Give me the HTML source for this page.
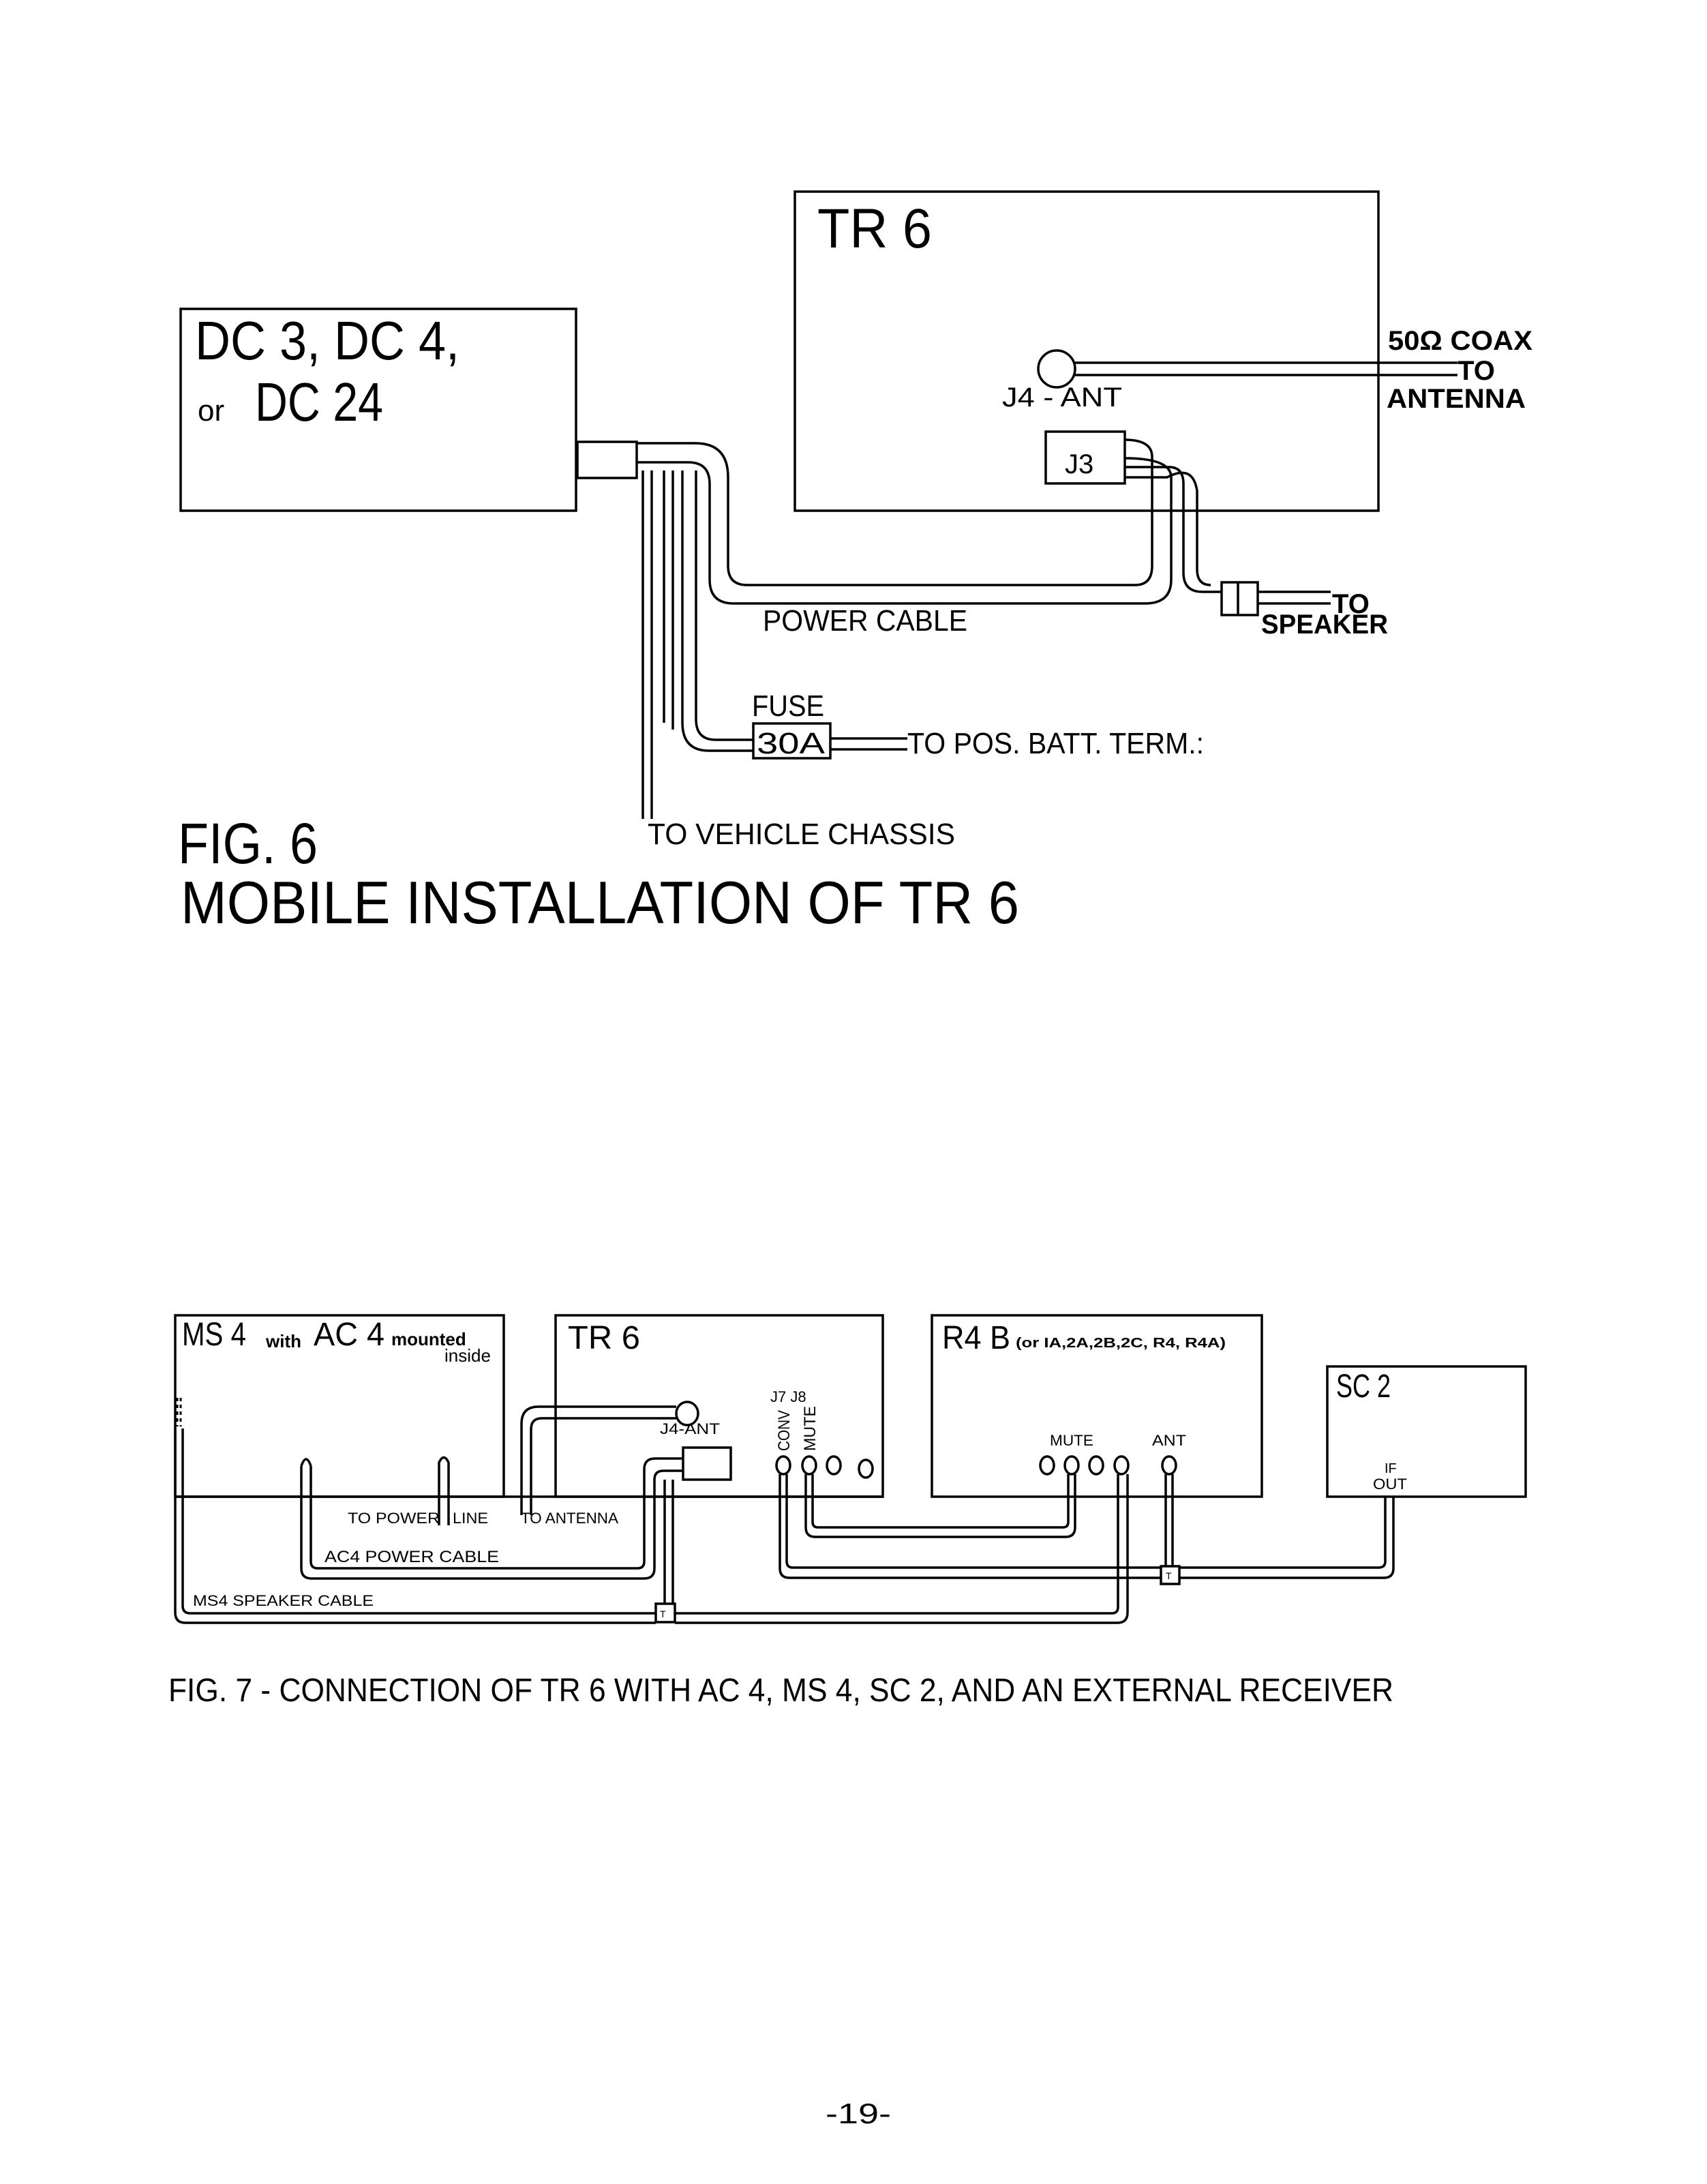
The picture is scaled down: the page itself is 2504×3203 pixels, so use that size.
<!DOCTYPE html>
<html><head><meta charset="utf-8"><style>
html,body{margin:0;padding:0;background:#fff;}
svg{display:block;}
text{font-family:"Liberation Sans",sans-serif;fill:#000;}
</style></head><body>
<svg width="2504" height="3203" viewBox="0 0 2504 3203" xmlns="http://www.w3.org/2000/svg">
<rect width="2504" height="3203" fill="#fff"/>
<g fill="none" stroke="#000" stroke-width="3.5">
<!-- FIG 6 boxes -->
<rect x="1166" y="281" width="856" height="468"/>
<rect x="265" y="453" width="580" height="296"/>
<rect x="847" y="648" width="87" height="53"/>
<circle cx="1550" cy="541" r="27"/>
<line x1="1577" y1="532" x2="2138" y2="532"/>
<line x1="1577" y1="550" x2="2138" y2="550"/>
<rect x="1534" y="633" width="116" height="76"/>
<path d="M934,650 H1020 Q1068,650 1068,700 V830 Q1068,858 1096,858 H1665 Q1690,858 1690,830 V670 Q1690,645 1650,645"/>
<path d="M934,678 H1010 Q1041,678 1041,710 V850 Q1041,885 1076,885 H1680 Q1718,885 1718,850 V700 Q1718,672 1650,672"/>
<path d="M1650,685 H1715 Q1736,685 1736,710 V840 Q1736,868 1764,868 H1792"/>
<path d="M1650,700 H1712 Q1750,680 1756,720 V835 Q1756,858 1776,858"/>
<rect x="1792" y="854" width="53" height="48"/>
<line x1="1816" y1="854" x2="1816" y2="902"/>
<line x1="1845" y1="868" x2="1952" y2="868"/>
<line x1="1845" y1="885" x2="1952" y2="885"/>
<path d="M1001,690 V1060 Q1001,1101 1040,1101 H1105"/>
<path d="M1021,690 V1055 Q1021,1085 1050,1085 H1105"/>
<rect x="1105" y="1061" width="113" height="51"/>
<line x1="1218" y1="1083" x2="1331" y2="1083"/>
<line x1="1218" y1="1099" x2="1331" y2="1099"/>
<line x1="943" y1="690" x2="943" y2="1201"/>
<line x1="956" y1="690" x2="956" y2="1201"/>
<line x1="974" y1="690" x2="974" y2="1060"/>
<line x1="987" y1="690" x2="987" y2="1070"/>

<!-- FIG 7 boxes -->
<rect x="257" y="1929" width="482" height="266"/>
<line x1="257" y1="2195" x2="1295" y2="2195"/>
<rect x="815" y="1929" width="480" height="266"/>
<rect x="1367" y="1929" width="484" height="266"/>
<rect x="1947" y="2004" width="291" height="191"/>
<ellipse cx="1008" cy="2073" rx="16" ry="17"/>
<path d="M992,2063 H790 Q765,2063 765,2088 V2222"/>
<path d="M992,2080 H795 Q779,2080 779,2096 V2222"/>
<rect x="1002" y="2123" width="70" height="47"/>
<ellipse cx="1149" cy="2149" rx="10" ry="13"/>
<ellipse cx="1187" cy="2149" rx="10" ry="13"/>
<ellipse cx="1223" cy="2149" rx="10" ry="13"/>
<ellipse cx="1270" cy="2154" rx="10" ry="13"/>
<ellipse cx="1536" cy="2149" rx="10" ry="13"/>
<ellipse cx="1572" cy="2149" rx="10" ry="13"/>
<ellipse cx="1608" cy="2149" rx="10" ry="13"/>
<ellipse cx="1645" cy="2149" rx="10" ry="13"/>
<ellipse cx="1715" cy="2149" rx="10" ry="13"/>
<path d="M644,2237 V2145 Q651,2130 658,2145 V2237"/>
<path d="M442,2150 Q449,2130 456,2150"/>
<path d="M442,2150 V2300 Q442,2315 457,2315 H945 Q960,2315 960,2300 V2170 Q960,2157 973,2157 H1002"/>
<path d="M456,2150 V2290 Q456,2300 466,2300 H935 Q945,2300 945,2290 V2155 Q945,2139 961,2139 H1002"/>
<line x1="975" y1="2170" x2="975" y2="2352"/>
<line x1="987" y1="2170" x2="987" y2="2352"/>
<rect x="962" y="2352" width="28" height="27"/>
<path d="M257,2095 V2365 Q257,2380 272,2380 H962 M990,2380 H1639 Q1654,2380 1654,2365 V2162"/>
<path d="M268,2095 V2355 Q268,2366 279,2366 H962 M990,2366 H1631 Q1640,2366 1640,2357 V2162"/>
<path d="M260,2050 V2092 M265,2050 V2092" stroke-dasharray="5,5" stroke-width="3"/>
<path d="M1182,2162 V2240 Q1182,2254 1196,2254 H1563 Q1577,2254 1577,2240 V2162"/>
<path d="M1192,2162 V2232 Q1192,2240 1200,2240 H1559 Q1567,2240 1567,2232 V2162"/>
<path d="M1144,2162 V2300 Q1144,2314 1158,2314 H1703 M1730,2314 H2030 Q2044,2314 2044,2300 V2195"/>
<path d="M1154,2162 V2290 Q1154,2299 1163,2299 H1703 M1730,2299 H2022 Q2032,2299 2032,2290 V2195"/>
<line x1="1710" y1="2162" x2="1710" y2="2297"/>
<line x1="1720" y1="2162" x2="1720" y2="2297"/>
<rect x="1703" y="2297" width="27" height="26"/>
</g>
<g fill="#000" font-size="14"><text x="968" y="2372">T</text><text x="1710" y="2316">T</text></g>

<text x="286" y="527" font-size="80" textLength="388" lengthAdjust="spacingAndGlyphs">DC 3, DC 4,</text>
<text x="290" y="617" font-size="44">or</text>
<text x="374" y="617" font-size="80" textLength="188" lengthAdjust="spacingAndGlyphs">DC 24</text>
<text x="1199" y="363" font-size="82" textLength="168" lengthAdjust="spacingAndGlyphs">TR 6</text>
<text x="1470" y="596" font-size="40" textLength="176" lengthAdjust="spacingAndGlyphs">J4 - ANT</text>
<text x="1562" y="694" font-size="40">J3</text>
<text x="2036" y="513" font-size="40" font-weight="bold" textLength="212" lengthAdjust="spacingAndGlyphs">50Ω COAX</text>
<text x="2138" y="557" font-size="40" font-weight="bold">TO</text>
<text x="2034" y="598" font-size="40" font-weight="bold" textLength="204" lengthAdjust="spacingAndGlyphs">ANTENNA</text>
<text x="1954" y="899" font-size="40" font-weight="bold">TO</text>
<text x="1850" y="929" font-size="40" font-weight="bold" textLength="186" lengthAdjust="spacingAndGlyphs">SPEAKER</text>
<text x="1119" y="925" font-size="44" textLength="300" lengthAdjust="spacingAndGlyphs">POWER CABLE</text>
<text x="1103" y="1050" font-size="44" textLength="106" lengthAdjust="spacingAndGlyphs">FUSE</text>
<text x="1110" y="1105" font-size="44" textLength="100" lengthAdjust="spacingAndGlyphs">30A</text>
<text x="1331" y="1105" font-size="44" textLength="435" lengthAdjust="spacingAndGlyphs">TO POS. BATT. TERM.:</text>
<text x="950" y="1238" font-size="44" textLength="451" lengthAdjust="spacingAndGlyphs">TO VEHICLE CHASSIS</text>
<text x="261" y="1266" font-size="84" textLength="205" lengthAdjust="spacingAndGlyphs">FIG. 6</text>
<text x="265" y="1354" font-size="88" textLength="1230" lengthAdjust="spacingAndGlyphs">MOBILE  INSTALLATION  OF  TR  6</text>

<text x="267" y="1973" font-size="48" textLength="94" lengthAdjust="spacingAndGlyphs">MS 4</text>
<text x="390" y="1976" font-size="26" font-weight="bold">with</text>
<text x="460" y="1973" font-size="48" textLength="104" lengthAdjust="spacingAndGlyphs">AC 4</text>
<text x="574" y="1973" font-size="26" font-weight="bold">mounted</text>
<text x="652" y="1997" font-size="26">inside</text>
<text x="833" y="1978" font-size="48" textLength="106" lengthAdjust="spacingAndGlyphs">TR 6</text>
<text x="1382" y="1978" font-size="48" textLength="100" lengthAdjust="spacingAndGlyphs">R4 B</text>
<text x="1490" y="1976" font-size="20" font-weight="bold" textLength="308" lengthAdjust="spacingAndGlyphs">(or IA,2A,2B,2C, R4, R4A)</text>
<text x="1960" y="2049" font-size="48" textLength="80" lengthAdjust="spacingAndGlyphs">SC 2</text>
<text x="968" y="2103" font-size="22" textLength="88" lengthAdjust="spacingAndGlyphs">J4-ANT</text>
<text x="1130" y="2056" font-size="22">J7 J8</text>
<text transform="translate(1158,2128) rotate(-90)" font-size="24" textLength="60" lengthAdjust="spacingAndGlyphs">CONV</text>
<text transform="translate(1196,2128) rotate(-90)" font-size="24" textLength="66" lengthAdjust="spacingAndGlyphs">MUTE</text>
<text x="1540" y="2120" font-size="22" textLength="64" lengthAdjust="spacingAndGlyphs">MUTE</text>
<text x="1690" y="2120" font-size="22" textLength="50" lengthAdjust="spacingAndGlyphs">ANT</text>
<text x="2031" y="2160" font-size="20">IF</text>
<text x="2014" y="2184" font-size="22" textLength="50" lengthAdjust="spacingAndGlyphs">OUT</text>
<text x="510" y="2234" font-size="22" textLength="135" lengthAdjust="spacingAndGlyphs">TO POWER</text>
<text x="664" y="2234" font-size="22" textLength="52" lengthAdjust="spacingAndGlyphs">LINE</text>
<text x="764" y="2234" font-size="22" textLength="143" lengthAdjust="spacingAndGlyphs">TO ANTENNA</text>
<text x="476" y="2291" font-size="24" textLength="256" lengthAdjust="spacingAndGlyphs">AC4  POWER  CABLE</text>
<text x="283" y="2355" font-size="22" textLength="265" lengthAdjust="spacingAndGlyphs">MS4 SPEAKER CABLE</text>
<text x="247" y="2495" font-size="48" textLength="1797" lengthAdjust="spacingAndGlyphs">FIG. 7 - CONNECTION  OF  TR 6  WITH  AC 4, MS 4, SC 2,  AND  AN  EXTERNAL  RECEIVER</text>
<text x="1211" y="3114" font-size="42" font-family="Liberation Mono, monospace" textLength="96" lengthAdjust="spacingAndGlyphs">-19-</text>
</svg>
</body></html>
